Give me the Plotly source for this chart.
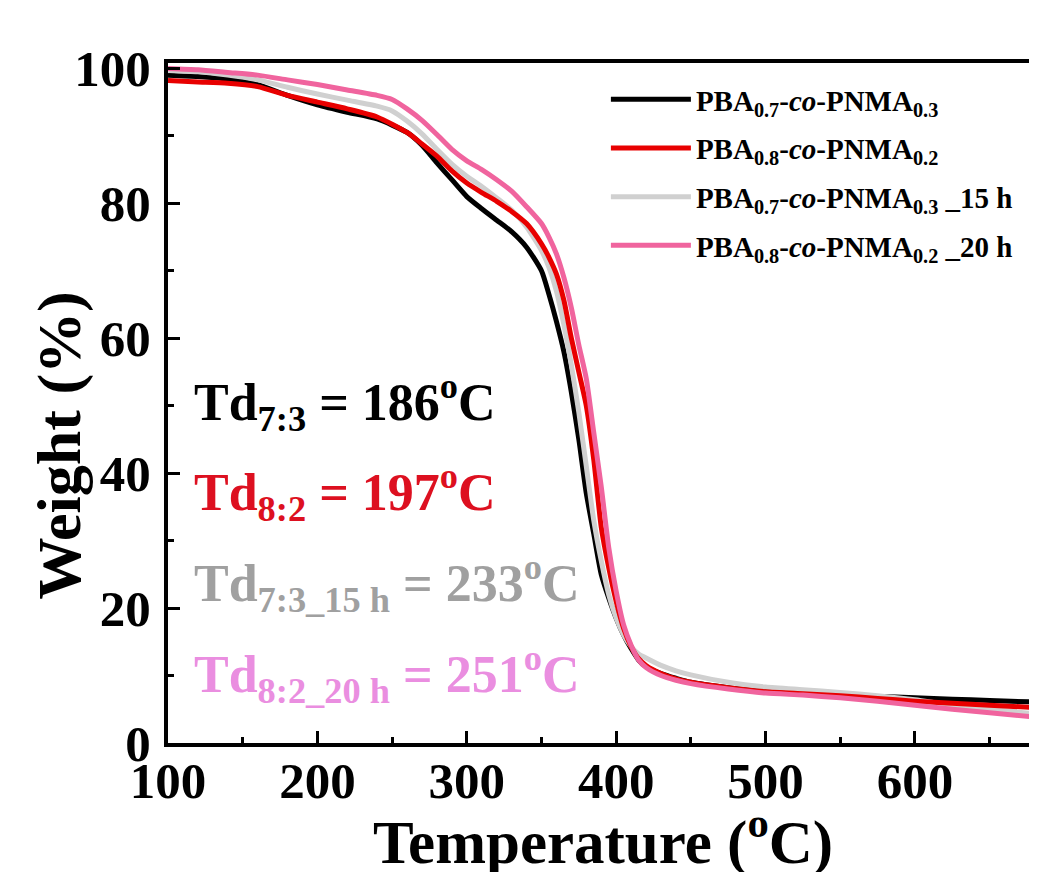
import plotly.graph_objects as go

# ---- data ----
T_black = [100,120,140,160,180,200,220,240,260,270,280,290,300,310,320,330,340,350,355,360,365,370,375,380,385,390,395,400,405,410,415,420,430,440,450,475,500,525,550,575,600,625,650,677]
W_black = [99.0,98.8,98.4,97.6,96.0,94.6,93.5,92.5,90.5,88.6,86.0,83.5,81.0,79.2,77.5,75.8,73.5,70.0,66.5,62.5,58.0,52.0,45.0,37.0,31.0,25.0,21.5,18.5,16.0,14.0,12.3,11.3,10.3,9.6,9.0,8.2,7.6,7.3,7.0,6.9,6.7,6.5,6.3,6.1]

T_red = [100,120,140,160,180,200,220,240,260,270,280,290,300,310,320,330,340,350,355,360,365,370,375,380,385,390,395,400,405,410,415,420,430,440,450,475,500,525,550,575,600,625,650,677]
W_red = [98.2,98.0,97.8,97.3,96.0,95.0,94.0,92.8,90.5,88.8,87.0,84.8,83.0,81.6,80.3,78.8,77.0,74.0,72.0,69.5,65.6,60.0,55.0,50.0,42.0,32.0,26.0,21.0,17.0,14.3,12.5,11.5,10.3,9.5,9.0,8.2,7.6,7.3,7.0,6.6,6.2,5.9,5.6,5.3]

T_gray = [100,120,140,160,180,200,220,240,250,260,270,280,290,300,310,320,330,340,350,355,360,365,370,375,380,385,390,395,400,405,410,415,420,430,440,450,475,500,525,550,575,600,625,650,677]
W_gray = [99.7,99.5,99.0,98.3,97.2,96.2,95.3,94.4,93.7,92.2,90.3,88.0,85.8,84.0,82.5,80.8,79.0,76.5,73.0,70.5,67.0,62.0,56.0,49.0,41.0,33.0,27.0,22.0,18.5,16.0,14.3,13.2,12.6,11.5,10.7,10.1,9.0,8.3,7.9,7.5,7.0,6.4,5.6,5.0,4.4]

T_pink = [100,120,140,160,180,200,220,240,250,260,270,280,290,300,310,320,330,340,350,355,360,365,370,375,380,385,390,395,400,405,410,415,420,430,440,450,475,500,525,550,575,600,625,650,677]
W_pink = [100.0,99.8,99.4,99.0,98.3,97.6,96.8,96.0,95.4,94.0,92.3,90.2,88.0,86.3,85.0,83.5,81.8,79.5,77.0,75.0,72.5,69.0,64.5,59.0,54.0,46.0,38.0,29.0,22.5,17.5,14.5,12.3,11.2,10.0,9.3,8.8,8.0,7.4,7.1,6.7,6.2,5.6,5.0,4.5,3.9]

series_names = [
    "PBA<sub>0.7</sub>-<i>co</i>-PNMA<sub>0.3</sub>",
    "PBA<sub>0.8</sub>-<i>co</i>-PNMA<sub>0.2</sub>",
    "PBA<sub>0.7</sub>-<i>co</i>-PNMA<sub>0.3</sub> _15 h",
    "PBA<sub>0.8</sub>-<i>co</i>-PNMA<sub>0.2</sub> _20 h",
]
series_colors = ["#000000", "#e80000", "#d0d0d0", "#f0649e"]

td_labels = [
    "Td<sub>7:3</sub> = 186<sup>o</sup>C",
    "Td<sub>8:2</sub> = 197<sup>o</sup>C",
    "Td<sub>7:3_15 h</sub> = 233<sup>o</sup>C",
    "Td<sub>8:2_20 h</sub> = 251<sup>o</sup>C",
]
td_colors = ["#000000", "#dd1020", "#a0a0a0", "#ea8ee0"]
td_y = [50.5, 37.2, 23.7, 10.1]

x_ticks = [100, 200, 300, 400, 500, 600]
y_ticks = [0, 20, 40, 60, 80, 100]
x_title = "Temperature (<sup>o</sup>C)"
y_title = "Weight (%)"

FONT = "Liberation Serif"

fig = go.Figure()
data = [(T_black, W_black), (T_red, W_red), (T_gray, W_gray), (T_pink, W_pink)]
draw_order = [0, 2, 1, 3]
for i in draw_order:
    tx, wy = data[i]
    fig.add_trace(go.Scatter(
        x=tx, y=wy, mode="lines", name=series_names[i],
        line=dict(color=series_colors[i], width=5, shape="spline", smoothing=0.6),
        legendrank=i + 1, legendgroup="g%d" % i,
    ))

for lab, col, yy in zip(td_labels, td_colors, td_y):
    fig.add_annotation(
        x=0.028, xref="paper", y=yy, yref="y", xanchor="left", yanchor="middle",
        text=lab, showarrow=False,
        font=dict(family=FONT, size=52, color=col, weight="bold"),
    )

# axis titles
fig.add_annotation(
    x=0.5046, xref="paper", y=-0.139, yref="paper", xanchor="center", yanchor="middle",
    text=x_title, showarrow=False,
    font=dict(family=FONT, size=61, color="black", weight="bold"),
)
fig.add_annotation(
    x=-0.126, xref="paper", y=0.438, yref="paper", xanchor="center", yanchor="middle",
    text=y_title, textangle=-90, showarrow=False,
    font=dict(family=FONT, size=62, color="black", weight="bold"),
)

axis_common = dict(
    showline=True, linecolor="black", linewidth=4, mirror=True,
    ticks="inside", tickcolor="black", tickwidth=3, ticklen=12,
    showgrid=False, zeroline=False,
    tickfont=dict(family=FONT, size=51, color="black", weight="bold"),
)

fig.update_xaxes(
    range=[100, 677], tickvals=x_ticks, ticklabelstandoff=-10,
    minor=dict(ticks="inside", dtick=50, ticklen=6, tickwidth=3, tickcolor="black", showgrid=False),
    **axis_common,
)
fig.update_yaxes(
    range=[0, 100.8], tickvals=y_ticks, ticklabelstandoff=3,
    minor=dict(ticks="inside", dtick=10, ticklen=6, tickwidth=3, tickcolor="black", showgrid=False),
    **axis_common,
)

fig.update_layout(
    width=1029, height=864,
    margin=dict(l=160, r=3, t=55, b=129),
    paper_bgcolor="white", plot_bgcolor="white",
    showlegend=True,
    legend=dict(
        x=0.508, y=0.984, xanchor="left", yanchor="top",
        font=dict(family=FONT, size=29, color="black", weight="bold"),
        bgcolor="rgba(0,0,0,0)", tracegroupgap=8, itemwidth=80,
    ),
)

fig.write_html("out.html")
